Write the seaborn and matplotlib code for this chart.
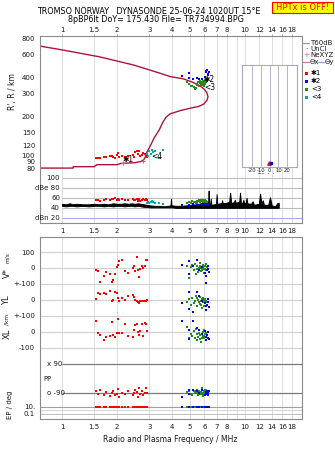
import matplotlib
matplotlib.use("Agg")
import matplotlib.pyplot as plt
from matplotlib.lines import Line2D
from matplotlib.patches import Rectangle
from matplotlib.ticker import NullLocator, FixedLocator, FixedFormatter
import pandas as pd
import seaborn as sns

sns.set_theme(style="white")
plt.rcParams["font.family"] = ["DejaVu Sans"]

# ---------------------------------------------------------------- data
top_ticks = [1, 1.5, 2, 3, 4, 5, 6, 7, 8, 10, 12, 14, 16, 18]
mid_ticks = [1, 1.5, 2, 3, 4, 5, 6, 7, 8, 9, 10, 12, 14, 16, 18]
height_ticks = [80, 90, 100, 120, 150, 200, 300, 400, 600, 800]

# plasma-frequency profile (bottomside + topside), in path order
prof_f = [0.758, 1.15, 1.15, 1.50, 1.55, 2.00, 2.10, 2.50, 2.70, 2.80,
          2.85, 2.90, 3.00, 3.20, 3.40, 3.55, 3.70, 3.90, 4.40, 5.00,
          5.60, 5.95, 6.20, 6.28, 6.20, 6.00, 5.70, 5.20, 4.60, 3.90,
          3.40, 2.45, 1.60, 1.00, 0.758]
prof_h = [80, 80, 82, 82, 85, 85, 87, 88, 90, 93,
          97, 105, 115, 138, 158, 180, 198, 210, 222, 232,
          240, 250, 268, 284, 305, 325, 345, 368, 392, 408,
          435, 502, 580, 656, 702]

# echo groups: frequency / MHz, virtual height / km, amplitude / dB,
# V* / m/s, YL / km, XL / km, PP / deg, EP / deg
red_f = [1.53, 1.58, 1.61, 1.70, 1.75, 1.83, 1.87, 1.91, 1.95, 1.99, 2.03, 2.05, 2.12, 2.21,
         2.30, 2.43, 2.47, 2.50, 2.56, 2.61, 2.63, 2.68, 2.72, 2.78, 2.84, 2.88, 2.90]
red_h = [95, 96, 95, 98, 97, 100, 99, 97, 96, 101, 105, 98, 100, 97,
         99, 101, 98, 107, 108, 103, 108, 99, 101, 104, 103, 99, 97]
red_db = [55, 56, 54, 56, 57, 55, 58, 57, 59, 56, 58, 55, 57, 56,
          55, 57, 55, 56, 58, 54, 57, 53, 55, 57, 56, 58, 55]
red_v = [-10, -17, -85, -50, -25, -37, -85, -75, -37, 5, 20, 46, 50, -20,
         -30, 0, 10, -20, 68, -10, -57, -5, 10, 0, 15, 47, 50]
red_yl = [6, 42, 36, 42, 36, 57, -5, 0, 53, 42, 15, -8, 10, 0,
          28, 32, 20, 0, -5, -10, -17, -8, -5, -6, -6, -6, -2]
red_xl = [70, -4, -19, -47, -34, -25, 60, -20, -34, -5, 81, -5, -5, 49,
          -25, -30, 10, 45, 51, 0, -20, 5, 49, -28, 55, 50, 5]
red_pp = [-80, -95, -70, -100, -85, -110, -90, -75, -105, -95, -65, -115, -88, -98,
          -80, -100, -92, -70, -85, -112, -60, -95, -78, -100, -88, -62, -90]
red_ep = [10, 12, 9, 11, 10, 13, 10, 9, 12, 11, 10, 9, 11, 10,
          12, 10, 9, 11, 13, 10, 9, 11, 10, 12, 10, 9, 11]

blue_f = [4.52, 4.92, 4.95, 5.20, 5.45, 5.62, 5.80, 6.05, 6.10, 6.15, 6.20, 6.25, 6.28, 6.32]
blue_h = [413, 432, 400, 388, 395, 388, 392, 407, 440, 450, 455, 430, 420, 445]
blue_db = [45, 46, 44, 47, 45, 46, 45, 48, 46, 47, 46, 45, 47, 46]
blue_v = [20, 42, -36, 15, 48, -10, 5, -32, -53, -91, -15, 10, -5, -25]
blue_yl = [-21, 47, -57, -74, 53, 26, -5, -20, -40, -60, -30, 6, -15, -45]
blue_xl = [66, -45, 10, 70, 28, 15, -10, 5, -30, -50, -20, -40, 0, -45]
blue_pp = [-115, -72, -95, -70, -80, -90, -72, -100, -85, -95, -75, -90, -105, -80]
blue_ep = [10, 11, 9, 10, 12, 10, 11, 9, 10, 12, 10, 11, 10, 9]

green_f = [4.85, 4.95, 5.05, 5.15, 5.25, 5.35, 5.45, 5.50, 5.55, 5.60, 5.65, 5.70, 5.75, 5.80,
           5.85, 5.88, 5.92, 5.96, 6.00, 6.03, 6.06, 6.10, 6.14, 6.18, 5.40, 5.78, 5.95, 6.08]
green_h = [368, 358, 347, 342, 338, 328, 360, 352, 370, 345, 362, 378, 355, 366,
           372, 350, 380, 360, 372, 385, 362, 375, 368, 380, 335, 348, 342, 358]
green_db = [50, 52, 49, 53, 51, 52, 50, 54, 53, 55, 52, 54, 56, 53,
            55, 52, 54, 55, 53, 56, 52, 54, 53, 51, 48, 55, 54, 52]
green_v = [10, -64, 5, 20, -15, 25, -5, 15, -25, 0, 30, 10, -20, 5,
           -10, 20, 0, -30, 15, -5, 10, 25, -15, 5, -40, 0, -8, 12]
green_yl = [-10, 5, -30, 15, -20, -5, 10, -40, 0, -15, 20, -25, -5, 5,
            -50, -10, 12, -35, 0, -20, 8, -8, -60, -15, 25, -30, 2, -12]
green_xl = [30, -40, -10, -25, 5, -35, -50, -15, -30, -5, -45, -20, -60, -10,
            -35, 0, -25, -40, 10, -30, -15, -50, -5, -20, 20, -65, -28, -12]
green_pp = [-85, -75, -95, -100, -80, -88, -70, -92, -105, -78, -90, -98, -82, -60,
            -95, -88, -110, -76, -92, -84, -100, -70, -90, -96, -80, -86, -102, -74]
green_ep = [10, 11, 9, 12, 10, 11, 10, 9, 12, 10, 11, 10, 9, 10,
            12, 11, 10, 9, 11, 10, 12, 10, 9, 11, 10, 12, 10, 11]

cyan_f = [2.90, 2.94, 3.00, 3.06, 3.10, 3.15, 3.22, 3.40, 3.56]
cyan_h = [102, 99, 108, 103, 110, 106, 109, 96, 111]
cyan_db = [50, 52, 49, 51, 53, 52, 50, 49, 48]

# received amplitude band (lower / upper envelope, dB)
amp_f = [1.00, 1.05, 1.10, 1.15, 1.20, 1.30, 1.40, 1.50, 1.60, 1.70,
         1.80, 1.90, 2.00, 2.10, 2.20, 2.30, 2.40, 2.50, 2.60, 2.70,
         2.80, 2.90, 3.00, 3.20, 3.40, 3.60, 3.80, 3.92, 3.94, 3.96,
         4.20, 4.50, 4.80, 5.10, 5.40, 5.60, 5.80, 6.00, 6.10, 6.20,
         6.30, 6.33, 6.36, 6.45, 6.50, 6.55, 6.80, 6.95, 7.00, 7.05,
         7.30, 7.45, 7.50, 7.55, 7.90, 8.20, 8.30, 8.40, 8.70, 8.80,
         8.90, 9.30, 9.40, 9.50, 9.70, 9.80, 9.90, 10.1, 10.2, 10.3,
         10.8, 11.0, 11.2, 11.9, 12.1, 12.3, 12.5, 12.7, 13.4, 13.7,
         14.0, 14.6, 15.0, 15.3]
amp_hi = [48, 47, 49, 47, 48, 47, 47, 48, 47, 48,
          47, 49, 48, 48, 49, 48, 49, 48, 49, 48,
          47, 46, 45, 44, 44, 43, 44, 45, 58, 45,
          44, 44, 45, 46, 47, 48, 50, 52, 55, 50,
          52, 74, 50, 46, 58, 46, 47, 48, 67, 48,
          49, 50, 55, 49, 50, 52, 70, 50, 51, 56,
          50, 52, 70, 50, 50, 56, 49, 50, 60, 49,
          48, 53, 46, 48, 68, 48, 55, 46, 46, 61,
          45, 43, 49, 50]
amp_lo = [44, 43, 44, 44, 43, 44, 43, 44, 44, 43,
          44, 43, 44, 44, 43, 44, 44, 43, 44, 43,
          42, 42, 41, 41, 41, 41, 41, 41, 41, 41,
          40, 40, 40, 40, 40, 40, 40, 40, 40, 40,
          40, 40, 40, 40, 40, 40, 40, 40, 40, 40,
          40, 40, 40, 40, 40, 40, 40, 40, 40, 40,
          40, 40, 40, 40, 40, 40, 40, 40, 40, 40,
          40, 40, 40, 40, 40, 40, 40, 40, 40, 40,
          40, 40, 40, 40]

# ---------------------------------------------------------------- style
RED, BLUE, GREEN, CYAN = "#ff0000", "#0000ee", "#1f8c1f", "#00a8a8"
PROFILE = "#b0123f"
FRAME = "#8a8a8a"
GRID = "#dcdcdc"
TXT = "#1a1a1a"
F_LIM = (0.758, 20.5)
W, H = 335, 451
DOT = 2.8

fig = plt.figure(figsize=(W / 100, H / 100), dpi=100)
fig.patch.set_facecolor("white")


def box(x0, y0, x1, y1):
    return [x0 / W, 1 - y1 / H, (x1 - x0) / W, (y1 - y0) / H]


def px(x, y):
    return x / W, 1 - y / H


def frame(ax, top=True, bottom=True):
    for sp in ax.spines.values():
        sp.set_color(FRAME)
        sp.set_linewidth(0.8)
    ax.spines["top"].set_visible(top)
    ax.spines["bottom"].set_visible(bottom)
    ax.set_facecolor("white")
    ax.tick_params(axis="both", which="both", labelsize=5, length=2, width=0.5,
                   pad=1.5, color=FRAME, labelcolor=TXT)


def freq_axis(ax, ticks=None, where="none"):
    ax.set_xscale("log")
    ax.set_xlim(*F_LIM)
    ax.xaxis.set_minor_locator(NullLocator())
    for f in mid_ticks:
        ax.axvline(f, color=GRID, lw=0.7, zorder=0)
    if ticks is None:
        ax.set_xticks([])
    else:
        ax.xaxis.set_major_locator(FixedLocator(ticks))
        ax.xaxis.set_major_formatter(FixedFormatter([f"{t:g}" for t in ticks]))
        if where == "top":
            ax.xaxis.tick_top()


def dots(ax, x, y, color, s=DOT, z=3):
    df = pd.DataFrame({"f": x, "v": y})
    sns.scatterplot(data=df, x="f", y="v", color=color, marker="s", s=s,
                    linewidth=0, ax=ax, zorder=z, legend=False)
    ax.set_xlabel("")
    ax.set_ylabel("")


# ---------------------------------------------------------------- height panel
ax_h = fig.add_axes(box(40, 36, 302, 174))
frame(ax_h, bottom=False)
freq_axis(ax_h, top_ticks, "top")
ax_h.tick_params(axis="x", pad=0.3, length=1.5)
ax_h.set_yscale("log")
ax_h.set_ylim(72, 840)
ax_h.yaxis.set_minor_locator(NullLocator())
ax_h.yaxis.set_major_locator(FixedLocator(height_ticks))
ax_h.yaxis.set_major_formatter(FixedFormatter([str(t) for t in height_ticks]))

prof = pd.DataFrame({"f": prof_f, "h": prof_h})
sns.lineplot(data=prof, x="f", y="h", sort=False, estimator=None, color=PROFILE,
             lw=1.0, ax=ax_h, zorder=2)
dots(ax_h, red_f, red_h, RED)
dots(ax_h, cyan_f, cyan_h, CYAN)
dots(ax_h, green_f, green_h, GREEN)
dots(ax_h, blue_f, blue_h, BLUE)
ax_h.plot([2.15, 2.78], [88, 91], ls="none", marker="+", ms=3, mew=0.8, color="#e05a8a", zorder=4)
ax_h.set_xlabel("")
ax_h.set_ylabel("")
for txt, f, h in [("✱1", 2.15, 93), ("<4", 3.08, 99), ("✱2", 5.97, 384), ("<3", 5.97, 336)]:
    ax_h.text(f, h, txt, fontsize=5.5, color="black", va="center", ha="left", zorder=5)

# tilt inset
ax_t = fig.add_axes(box(242, 65, 297, 167))
ax_t.set_xlim(-31, 31)
ax_t.set_ylim(0, 100)
for sp in ax_t.spines.values():
    sp.set_color("#a8a8c8")
    sp.set_linewidth(0.8)
for t in [-20, -10, 0, 10, 20]:
    ax_t.axvline(t, color="#b4b4cc", lw=0.7, zorder=0)
ax_t.set_yticks([])
ax_t.set_xticks([-20, -10, 0, 10, 20])
ax_t.set_xticklabels(["-20", "-10", "0", "10", "20"])
ax_t.tick_params(axis="x", length=0, pad=1, labelsize=3.8, labelcolor=TXT)
ax_t.set_xlabel("Tilt / deg", fontsize=4, labelpad=0, color=TXT)
ax_t.plot([-1], [4], marker="^", ms=2.5, color=RED, ls="none")
ax_t.plot([1.2], [4], marker="s", ms=2, color=BLUE, ls="none")

# ---------------------------------------------------------------- amplitude panel
ax_a = fig.add_axes(box(40, 174, 302, 223))
frame(ax_a, top=False)
freq_axis(ax_a, mid_ticks)
ax_a.set_ylim(10, 107)
ax_a.set_yticks([])
ax_a.tick_params(axis="x", pad=1.5, length=2)
for lvl in [100, 80, 60, 40]:
    ax_a.hlines(lvl, 1.0, F_LIM[1], color="#bdbdbd", lw=0.8, zorder=1)
ax_a.hlines(20, 1.0, F_LIM[1], color="#a9a9e6", lw=0.8, zorder=1)
for lvl, lab in [(100, "100"), (80, "dBe 80"), (60, "60"), (40, "40"), (20, "dBn 20")]:
    ax_a.text(0.975, lvl, lab, fontsize=5, color=TXT, ha="right", va="center")
ax_a.fill_between(amp_f, amp_lo, amp_hi, color="black", lw=0.7, zorder=2)
dots(ax_a, red_f, red_db, RED)
dots(ax_a, cyan_f, cyan_db, CYAN)
dots(ax_a, green_f, green_db, GREEN)
dots(ax_a, blue_f, blue_db, BLUE)

# ---------------------------------------------------------------- lower stack
ax_v = fig.add_axes(box(40, 237, 302, 284))
ax_yl = fig.add_axes(box(40, 284, 302, 316))
ax_xl = fig.add_axes(box(40, 316, 302, 356))
ax_pp = fig.add_axes(box(40, 356, 302, 399))
ax_ep = fig.add_axes(box(40, 399, 302, 419))

frame(ax_v, bottom=False)
frame(ax_yl, top=False, bottom=False)
frame(ax_xl, top=False, bottom=False)
frame(ax_pp, top=False, bottom=False)
frame(ax_ep, top=False)
for ax in (ax_v, ax_yl, ax_xl, ax_pp):
    freq_axis(ax)
freq_axis(ax_ep, top_ticks)

ax_v.set_ylim(-100, 193.75)
ax_yl.set_ylim(-100, 100)
ax_xl.set_ylim(-150, 100)
ax_pp.set_ylim(-127.2, 139.7)
ax_ep.set_yscale("log")
ax_ep.set_ylim(0.0037, 1931)
ax_ep.yaxis.set_minor_locator(NullLocator())

ax_v.set_yticks([100, 0])
ax_v.set_yticklabels(["100", "0"])
ax_yl.set_yticks([100, 0])
ax_yl.set_yticklabels(["+-100", "0"])
ax_xl.set_yticks([100, 0, -100])
ax_xl.set_yticklabels(["+-100", "0", "-100"])
ax_pp.set_yticks([])
ax_ep.yaxis.set_major_locator(FixedLocator([10, 0.1]))
ax_ep.yaxis.set_major_formatter(FixedFormatter(["10.", "0.1"]))

for ax, lvls in [(ax_v, [100, 0]), (ax_yl, [100, 0]), (ax_xl, [100, 0, -100])]:
    for lvl in lvls:
        ax.axhline(lvl, color="#cfcfcf", lw=0.8, zorder=1)
ax_pp.hlines([90, -90], 1.0, F_LIM[1], color="#7a7a7a", lw=0.9, zorder=1)
ax_pp.text(0.83, 90, "x 90", fontsize=5, color=TXT, va="center", ha="left")
ax_pp.text(0.83, -90, "o -90", fontsize=5, color=TXT, va="center", ha="left")
ax_pp.text(0.79, -3, "PP", fontsize=5, color=TXT, va="center", ha="left")
ax_ep.axhline(10, color="#a0a0a0", lw=0.8, zorder=1)
ax_ep.axhline(1, color="#d0d0d0", lw=0.6, zorder=1)
ax_ep.axhline(0.1, color="#c0c0c0", lw=0.7, zorder=1)

for vals_r, vals_g, vals_b, ax in [(red_v, green_v, blue_v, ax_v),
                                   (red_yl, green_yl, blue_yl, ax_yl),
                                   (red_xl, green_xl, blue_xl, ax_xl),
                                   (red_pp, green_pp, blue_pp, ax_pp),
                                   (red_ep, green_ep, blue_ep, ax_ep)]:
    dots(ax, red_f, vals_r, RED)
    dots(ax, green_f, vals_g, GREEN)
    dots(ax, blue_f, vals_b, BLUE)

# ---------------------------------------------------------------- texts
fig.text(*px(149, 12), "TROMSO NORWAY   DYNASONDE 25-06-24 1020UT 15°E",
         fontsize=5.8, color="black", ha="center", va="center")
fig.text(*px(156, 19.5), "8pBP6It DoY= 175.430 File= TR734994.BPG",
         fontsize=5.8, color="black", ha="center", va="center")
fig.patches.append(Rectangle(px(272, 13), 61 / W, 11 / H, transform=fig.transFigure,
                             facecolor="#ffff00", edgecolor="#ff0000", lw=0.8))
fig.text(*px(302.5, 7.5), "HPTx is OFF!", fontsize=6, color="#ff0000",
         ha="center", va="center")

fig.text(*px(13, 92), "R', R / km", fontsize=5.5, rotation=90, ha="center", va="center", color=TXT)
fig.text(*px(7, 273), "V*", fontsize=6, rotation=90, ha="center", va="center", color=TXT)
fig.text(*px(7, 258), "m/s", fontsize=4.2, rotation=90, ha="center", va="center", color=TXT)
fig.text(*px(7, 300), "YL", fontsize=6, rotation=90, ha="center", va="center", color=TXT)
fig.text(*px(7, 319), "/km", fontsize=4.2, rotation=90, ha="center", va="center", color=TXT)
fig.text(*px(7, 334), "XL", fontsize=6, rotation=90, ha="center", va="center", color=TXT)
fig.text(*px(10, 405), "EP / deg", fontsize=5, rotation=90, ha="center", va="center", color=TXT)
fig.text(*px(170, 439), "Radio and Plasma Frequency / MHz", fontsize=5.5,
         ha="center", va="center", color=TXT)

# legend
fig.lines.append(Line2D([303 / W, 309 / W], [1 - 43 / H] * 2, color="#a0a0a0", lw=0.9,
                        transform=fig.transFigure))
fig.text(*px(310, 43), "T60dB", fontsize=5, va="center", color=TXT)
fig.text(*px(306, 49), "·", fontsize=5, va="center", ha="center", color="black")
fig.text(*px(310, 49), "UnCl", fontsize=5, va="center", color=TXT)
fig.text(*px(306, 55), "+", fontsize=5, va="center", ha="center", color="#e05a8a")
fig.text(*px(310, 55), "NeXYZ", fontsize=5, va="center", color=TXT)
fig.lines.append(Line2D([303 / W, 309 / W], [1 - 62 / H] * 2, color="#e07a9a", lw=0.9,
                        transform=fig.transFigure))
fig.text(*px(310, 62), "Θx", fontsize=5, va="center", color=TXT)
fig.lines.append(Line2D([318 / W, 324 / W], [1 - 62 / H] * 2, color="#9a9ae0", lw=0.9,
                        transform=fig.transFigure))
fig.text(*px(325, 62), "Θy", fontsize=5, va="center", color=TXT)
for y, c, lab in [(73, RED, "✱1"), (81, BLUE, "✱2"), (89, GREEN, "<3"), (97, CYAN, "<4")]:
    fig.patches.append(Rectangle(px(304.5, y + 1.5), 3 / W, 3 / H, transform=fig.transFigure,
                                 facecolor=c, edgecolor="none"))
    fig.text(*px(311, y), lab, fontsize=5, va="center", color="black")

fig.savefig("out.png", dpi=100, facecolor="white")
